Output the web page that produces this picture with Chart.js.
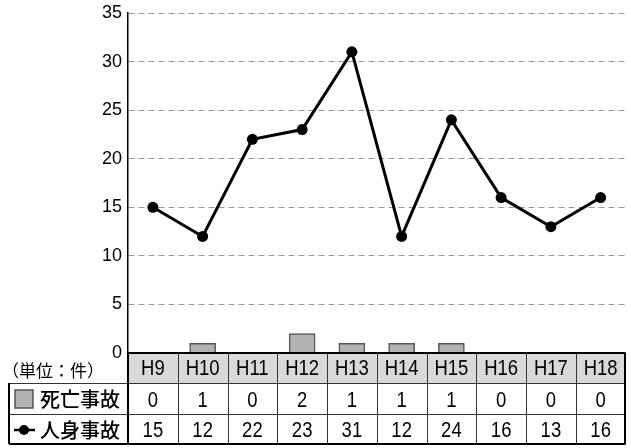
<!DOCTYPE html>
<html>
<head>
<meta charset="utf-8">
<script src="https://cdn.jsdelivr.net/npm/chart.js@4/dist/chart.umd.min.js"></script>
<style>
  html, body { margin: 0; padding: 0; background: #fff; overflow: hidden; }
  #wrap { width: 631px; height: 448px; }
</style>
</head>
<body>
<div id="wrap"><canvas id="myChart" width="631" height="448"></canvas></div>
<script>
const categories = ['H9', 'H10', 'H11', 'H12', 'H13', 'H14', 'H15', 'H16', 'H17', 'H18'];
const deathCounts = [0, 1, 0, 2, 1, 1, 1, 0, 0, 0];      // 死亡事故
const injuryCounts = [15, 12, 22, 23, 31, 12, 24, 16, 13, 16]; // 人身事故
const seriesNames = ['死亡事故', '人身事故'];
const unitLabel = '（単位：件）';
const yMax = 35;
const yStep = 5;

const NUM_FONT = '22px "Liberation Sans", Arial, sans-serif';
const JP_FONT = '"Noto Sans CJK JP", sans-serif';
const BAR_FILL = '#b3b3b3';
const BAR_EDGE = '#555555';

// no narrow font installed, so squeeze the table numbers by hand
function narrowText(ctx, text, x, y) {
	ctx.save();
	ctx.translate(x, y);
	ctx.scale(0.84, 1);
	ctx.fillText(text, 0, 0);
	ctx.restore();
}

// draws the data table under the plot, columns lined up with the x scale
const tablePlugin = {
	id: 'dataTable',
	afterDraw(chart) {
		const ctx = chart.ctx;
		const area = chart.chartArea;
		const xs = chart.scales.x;
		const n = categories.length;
		const colW = (area.right - area.left) / n;
		const top = area.bottom;
		const r1 = top + 30;   // header bottom
		const r2 = r1 + 31;
		const r3 = r2 + 30;
		const left = 9;
		const right = area.right - 0.5;

		ctx.save();

		// header background
		ctx.fillStyle = '#d9d9d9';
		ctx.fillRect(area.left, top, area.right - area.left, r1 - top);
		ctx.fillStyle = '#fff';
		ctx.fillRect(left, r1, area.right - left, r3 - r1);

		// inner lines
		ctx.strokeStyle = '#333';
		ctx.lineWidth = 1;
		ctx.beginPath();
		for (let i = 1; i < n; i++) {
			const x = Math.round(area.left + i * colW) + 0.5;
			ctx.moveTo(x, top);
			ctx.lineTo(x, r3);
		}
		ctx.moveTo(left, r1 + 0.5); ctx.lineTo(right, r1 + 0.5);
		ctx.moveTo(left, r2 + 0.5); ctx.lineTo(right, r2 + 0.5);
		ctx.stroke();

		// outer lines
		ctx.strokeStyle = '#000';
		ctx.lineWidth = 2;
		ctx.beginPath();
		ctx.moveTo(area.left, top); ctx.lineTo(area.right, top);
		ctx.moveTo(area.left, top); ctx.lineTo(area.left, r3);
		ctx.moveTo(left, r1); ctx.lineTo(left, r3);
		ctx.moveTo(left, r3); ctx.lineTo(area.right, r3);
		ctx.moveTo(right, top); ctx.lineTo(right, r3);
		ctx.stroke();

		// texts
		ctx.fillStyle = '#000';
		ctx.textAlign = 'center';
		ctx.textBaseline = 'middle';
		ctx.font = NUM_FONT;
		categories.forEach((c, i) => {
			const cx = xs.getPixelForValue(i);
			narrowText(ctx, c, cx, (top + r1) / 2 + 1);
			narrowText(ctx, String(deathCounts[i]), cx, (r1 + r2) / 2 + 2);
			narrowText(ctx, String(injuryCounts[i]), cx, (r2 + r3) / 2 + 2);
		});

		ctx.textAlign = 'left';
		ctx.font = '17px ' + JP_FONT;
		ctx.fillText(unitLabel, 2, (top + r1) / 2 + 3);

		ctx.font = '500 20px ' + JP_FONT;
		ctx.fillText(seriesNames[0], 40, (r1 + r2) / 2 + 1);
		ctx.fillText(seriesNames[1], 40, (r2 + r3) / 2 + 1);

		// legend keys
		ctx.fillStyle = BAR_FILL;
		ctx.strokeStyle = BAR_EDGE;
		ctx.lineWidth = 1.5;
		ctx.fillRect(15, r1 + 7, 18, 18);
		ctx.strokeRect(15, r1 + 7, 18, 18);

		const ly = (r2 + r3) / 2 + 1;
		ctx.strokeStyle = '#000';
		ctx.lineWidth = 2.5;
		ctx.beginPath();
		ctx.moveTo(14, ly); ctx.lineTo(35, ly);
		ctx.stroke();
		ctx.fillStyle = '#000';
		ctx.beginPath();
		ctx.arc(24, ly, 5, 0, Math.PI * 2);
		ctx.fill();

		ctx.restore();
	}
};

const ctx = document.getElementById('myChart').getContext('2d');

new Chart(ctx, {
	type: 'bar',
	data: {
		labels: categories,
		datasets: [
			{
				type: 'line',
				label: seriesNames[1],
				data: injuryCounts,
				borderColor: '#000',
				borderWidth: 3,
				backgroundColor: '#000',
				pointRadius: 5.5,
				pointBackgroundColor: '#000',
				pointBorderWidth: 0,
				tension: 0,
				order: 1
			},
			{
				type: 'bar',
				label: seriesNames[0],
				data: deathCounts,
				backgroundColor: BAR_FILL,
				borderColor: BAR_EDGE,
				borderWidth: 1.5,
				barThickness: 26,
				order: 2
			}
		]
	},
	options: {
		responsive: false,
		animation: false,
		layout: {
			padding: { top: 13, right: 0, bottom: 95, left: 0 }
		},
		plugins: {
			legend: { display: false },
			tooltip: { enabled: false }
		},
		scales: {
			x: {
				display: false,
				offset: true
			},
			y: {
				min: 0,
				max: yMax,
				afterFit: (scale) => {
					scale.width = 128;
					scale.paddingTop = 0;
					scale.paddingBottom = 0;
				},
				ticks: {
					stepSize: yStep,
					padding: 6,
					color: '#000',
					font: { family: '"Liberation Sans", Arial, sans-serif', size: 18 }
				},
				grid: {
					color: '#999',
					lineWidth: 1,
					drawTicks: false
				},
				border: {
					display: true,
					color: '#000',
					width: 1.5,
					dash: [6, 4]
				}
			}
		}
	},
	plugins: [tablePlugin]
});
</script>
</body>
</html>
